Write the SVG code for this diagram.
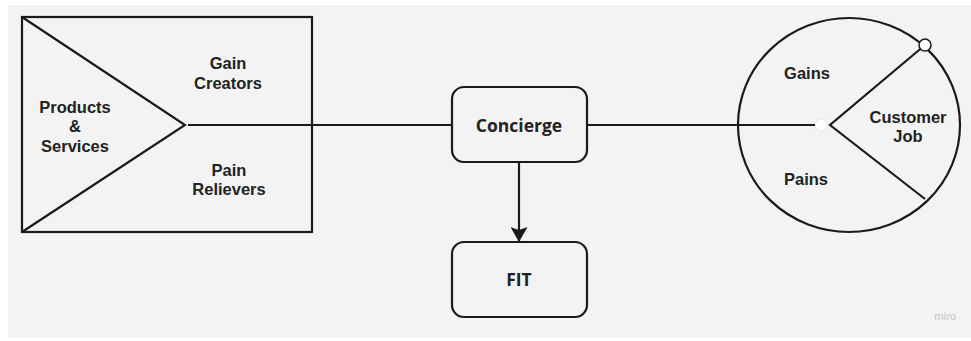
<svg xmlns="http://www.w3.org/2000/svg" width="971" height="341" viewBox="0 0 971 341">
<style>
.ln{stroke:#1a1a1a;stroke-width:2.2;fill:none}
.t{font-family:"Liberation Sans",Arial,sans-serif;font-weight:bold;font-size:16.5px;fill:#222222;text-anchor:middle}
.o{font-family:"Open Sans","Noto Sans",sans-serif;font-weight:bold;font-size:17.5px;fill:#222222;text-anchor:middle}
.box{fill:#f3f3f3;stroke:#1a1a1a;stroke-width:2.2}
</style>
<defs>
<marker id="ah" markerWidth="15" markerHeight="17" refX="15" refY="8.5" orient="auto" markerUnits="userSpaceOnUse" viewBox="0 0 15 17">
<path d="M0,0 L15,8.5 L0,17 L3,8.5 Z" fill="#1a1a1a"/>
</marker>
</defs>
<rect x="0" y="0" width="971" height="341" fill="#ffffff"/>
<rect x="8" y="5" width="963" height="333" fill="#f3f3f3"/>
<g id="value-proposition">
<rect x="22" y="17" width="290" height="215" class="ln"/>
<polyline points="22,17 185,125 22,232" class="ln"/>
<text class="t" x="75" y="113">Products</text>
<text class="t" x="75" y="132">&amp;</text>
<text class="t" x="75" y="152">Services</text>
<text class="t" x="228" y="69">Gain</text>
<text class="t" x="228" y="89">Creators</text>
<text class="t" x="229" y="176">Pain</text>
<text class="t" x="229" y="195">Relievers</text>
</g>
<g id="customer-profile">
<ellipse cx="849" cy="125" rx="111" ry="107" class="ln"/>
<polyline points="925,45 830,125 925,199" class="ln"/>
<circle cx="925" cy="45" r="6" fill="#ffffff" stroke="#1a1a1a" stroke-width="1.5"/>
<circle cx="821" cy="125" r="6" fill="#ffffff" stroke="#e6e6e6" stroke-width="1"/>
<text class="t" x="807" y="79">Gains</text>
<text class="t" x="908" y="123">Customer</text>
<text class="t" x="908" y="142">Job</text>
<text class="t" x="806" y="185">Pains</text>
</g>
<g id="connectors">
<line x1="188" y1="125" x2="452" y2="125" class="ln"/>
<line x1="587" y1="125" x2="815" y2="125" class="ln"/>
<line x1="519" y1="163" x2="519" y2="242" class="ln" marker-end="url(#ah)"/>
</g>
<g id="concierge">
<rect x="452" y="87" width="135" height="75" rx="12" class="box"/>
<text class="o" x="519" y="132">Concierge</text>
</g>
<g id="fit">
<rect x="452" y="242" width="135" height="75" rx="12" class="box"/>
<text class="o" x="519" y="286">FIT</text>
</g>
<text x="945" y="320" font-family="Roboto,'Open Sans',sans-serif" font-size="11" fill="#c4c4cc" text-anchor="middle">miro</text>
</svg>
